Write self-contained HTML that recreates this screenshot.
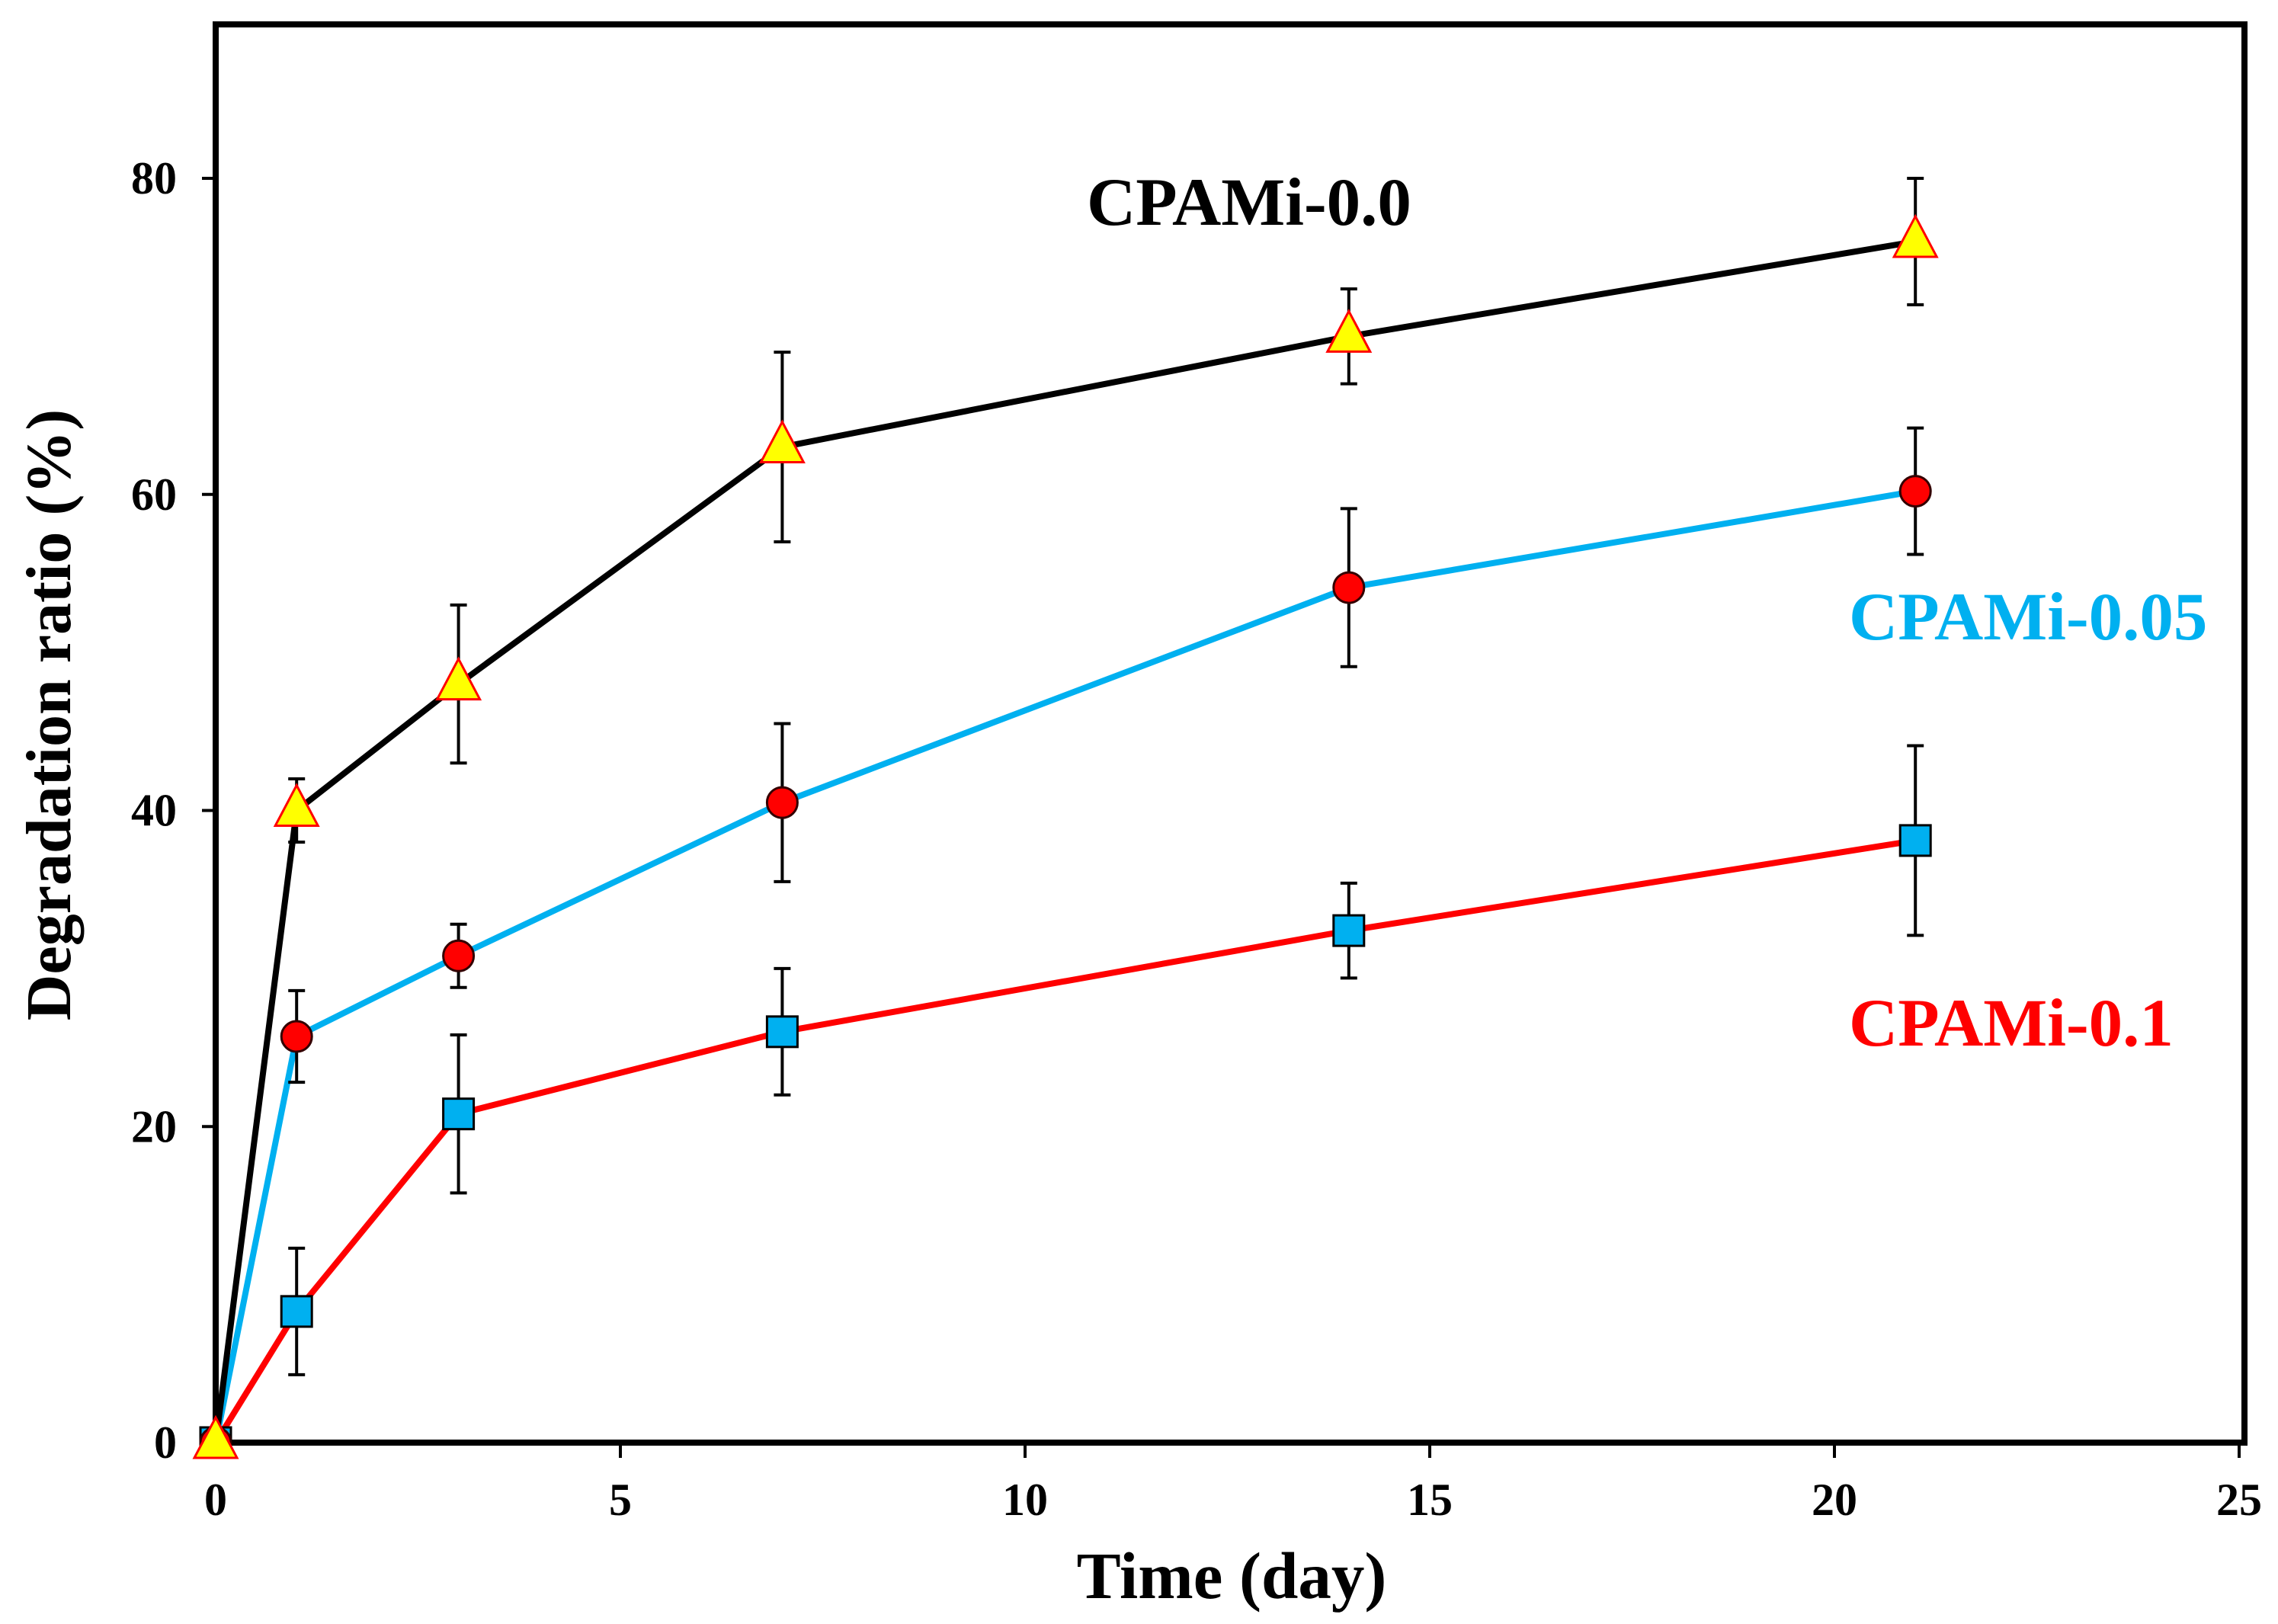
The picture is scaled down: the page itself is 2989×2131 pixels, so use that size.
<!DOCTYPE html>
<html><head><meta charset="utf-8">
<style>
html,body{margin:0;padding:0;background:#fff;}
svg{display:block;}
text{font-family:"Liberation Serif","Times New Roman",serif;font-weight:bold;}
</style></head>
<body>
<svg id="chart" width="2989" height="2131" viewBox="0 0 2989 2131" xmlns="http://www.w3.org/2000/svg">
<rect x="283" y="32" width="2662" height="1861" fill="none" stroke="#000" stroke-width="8"/>
<g id="ticks"></g>
<g id="series-layer"></g>
<text x="1616" y="2097" font-size="87" text-anchor="middle">Time (day)</text>
<text transform="translate(92,938) rotate(-90)" font-size="84" text-anchor="middle">Degradation ratio (%)</text>
<text x="1426" y="295" font-size="89" fill="#000">CPAMi-0.0</text>
<text x="2426" y="839" font-size="89" fill="#00B0F0">CPAMi-0.05</text>
<text x="2426" y="1372" font-size="89" fill="#FF0000">CPAMi-0.1</text>
</svg>
<script>
const days = [0, 1, 3, 7, 14, 21];
const cpami00 = [0, 40, 48, 63, 70, 76];
const cpami00Err = [0, 2, 5, 6, 3, 4];
const cpami005 = [0, 25.7, 30.8, 40.5, 54.1, 60.2];
const cpami005Err = [0, 2.9, 2, 5, 5, 4];
const cpami01 = [0, 8.3, 20.8, 26, 32.4, 38.1];
const cpami01Err = [0, 4, 5, 4, 3, 6];
const xTicks = [0, 5, 10, 15, 20, 25];
const yTicks = [0, 20, 40, 60, 80];

const NS = "http://www.w3.org/2000/svg";
const X0 = 283, X1 = 2938, Y0 = 1893, Y80 = 234;
function xs(v){ return X0 + (X1 - X0) * v / 25; }
function ys(v){ return Y0 - (Y0 - Y80) * v / 80; }
function mk(tag, attrs, parent){
  const e = document.createElementNS(NS, tag);
  for (const k in attrs) e.setAttribute(k, attrs[k]);
  parent.appendChild(e);
  return e;
}
const ticks = document.getElementById('ticks');
xTicks.forEach(t => {
  const l = mk('line', {x1: xs(t), x2: xs(t), y1: Y0, y2: Y0 + 20, stroke: '#000', 'stroke-width': 4}, ticks);
  
  
  const tx = mk('text', {x: xs(t), y: Y0 + 95, 'font-size': 60, 'text-anchor': 'middle'}, ticks);
  tx.textContent = t;
  
  
});
yTicks.forEach(t => {
  const l = mk('line', {x1: X0 - 18, x2: X0, y1: ys(t), y2: ys(t), stroke: '#000', 'stroke-width': 4}, ticks);
  
  
  const tx = mk('text', {x: 232, y: ys(t) + 20, 'font-size': 60, 'text-anchor': 'end'}, ticks);
  tx.textContent = t;
  
  
});

const layer = document.getElementById('series-layer');
const series = [
  {name: 'cpami-0.1', vals: cpami01, err: cpami01Err, line: '#FF0000', marker: 'square'},
  {name: 'cpami-0.05', vals: cpami005, err: cpami005Err, line: '#00B0F0', marker: 'circle'},
  {name: 'cpami-0.0', vals: cpami00, err: cpami00Err, line: '#000000', marker: 'triangle'}
];
series.forEach(s => {
  const pts = days.map((d, i) => xs(d) + ',' + ys(s.vals[i])).join(' ');
  const pl = mk('polyline', {points: pts, fill: 'none', stroke: s.line, 'stroke-width': 8, 'stroke-linejoin': 'round'}, layer);
  
  
});
series.forEach(s => {
  days.forEach((d, i) => {
    if (!s.err[i]) return;
    const g = mk('g', {stroke: '#000', 'stroke-width': 4}, layer);
    
    
    const x = xs(d), yt = ys(s.vals[i] + s.err[i]), yb = ys(s.vals[i] - s.err[i]);
    mk('line', {x1: x, x2: x, y1: yt, y2: yb}, g);
    mk('line', {x1: x - 11, x2: x + 11, y1: yt, y2: yt}, g);
    mk('line', {x1: x - 11, x2: x + 11, y1: yb, y2: yb}, g);
  });
});
series.forEach(s => {
  days.forEach((d, i) => {
    const x = xs(d), y = ys(s.vals[i]);
    let m;
    if (s.marker === 'square') {
      m = mk('rect', {x: x - 20, y: y - 20, width: 40, height: 40, fill: '#00B0F0', stroke: '#000', 'stroke-width': 3}, layer);
    } else if (s.marker === 'circle') {
      m = mk('circle', {cx: x, cy: y, r: 20, fill: '#FF0000', stroke: '#300', 'stroke-width': 3}, layer);
    } else {
      m = mk('polygon', {points: (x) + ',' + (y - 33) + ' ' + (x - 28) + ',' + (y + 20) + ' ' + (x + 28) + ',' + (y + 20), fill: '#FFFF00', stroke: '#FF0000', 'stroke-width': 3}, layer);
    }
    
    
  });
});
</script>
</body></html>
